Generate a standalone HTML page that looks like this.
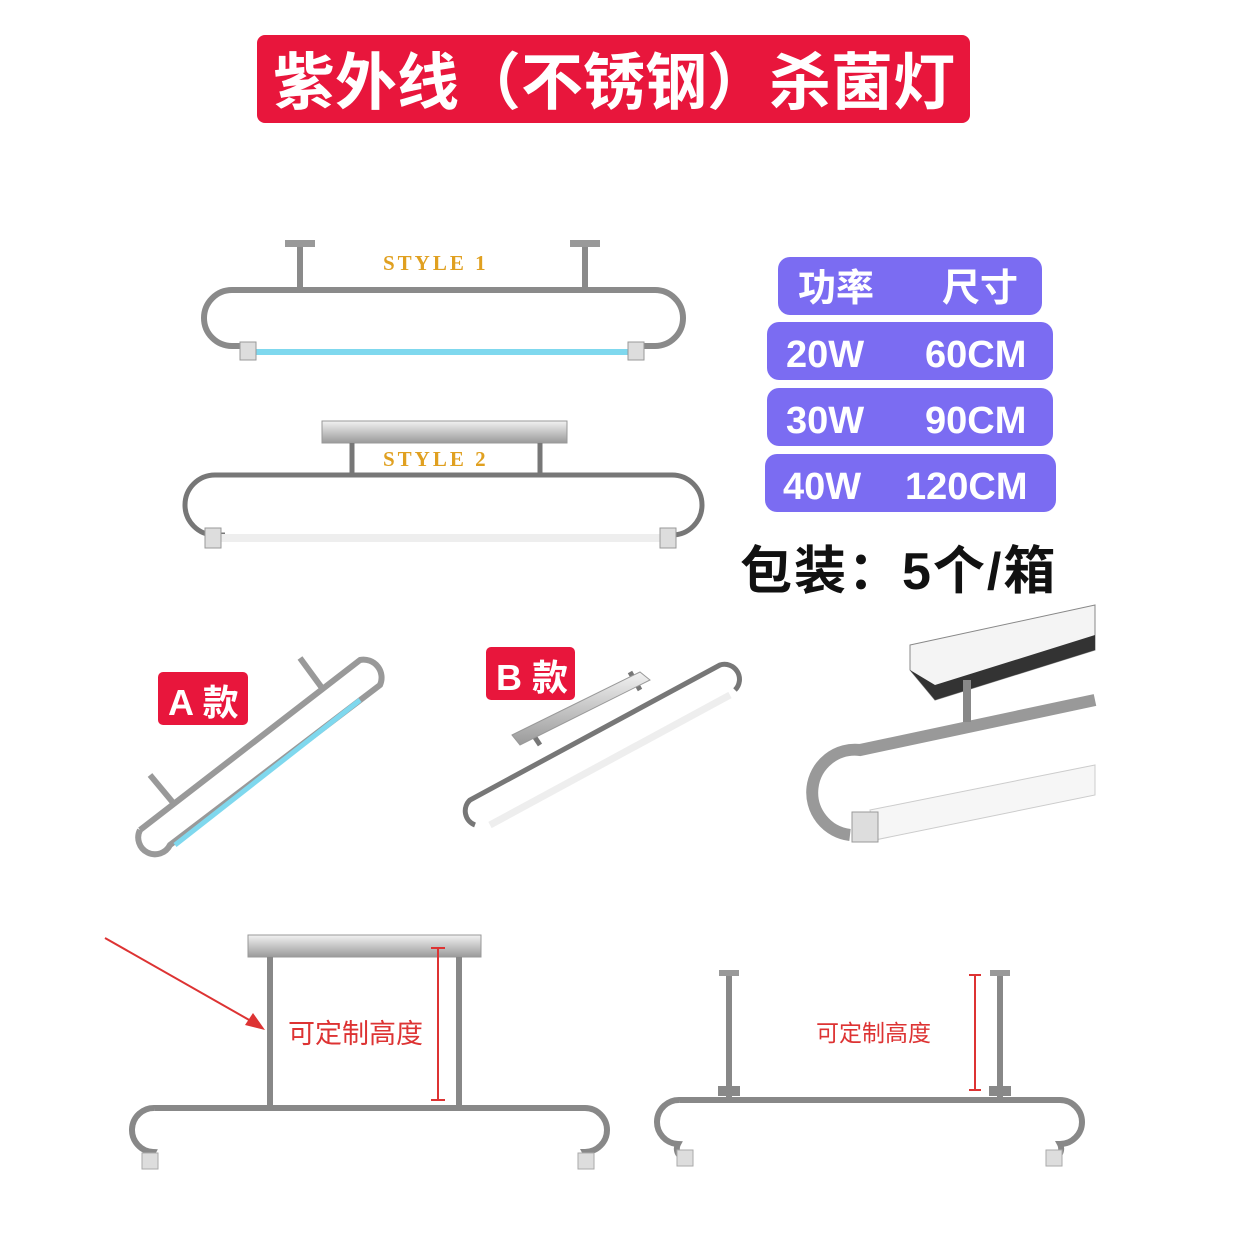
<!DOCTYPE html>
<html><head><meta charset="utf-8"><style>
html,body{margin:0;padding:0;background:#fff}
svg{display:block}
text{font-family:"Liberation Sans","Noto Sans CJK SC",sans-serif}
</style></head><body>
<svg width="1254" height="1254" viewBox="0 0 1254 1254" xmlns="http://www.w3.org/2000/svg">
<defs>
<linearGradient id="plate" x1="0" y1="0" x2="0" y2="1"><stop offset="0" stop-color="#f2f2f2"/><stop offset="1" stop-color="#9a9a9a"/></linearGradient>
</defs>
<!-- title -->
<rect x="257" y="35" width="713" height="88" rx="8" fill="#e8163c"/>
<text x="614" y="104" text-anchor="middle" font-size="62" font-weight="bold" fill="#fff">紫外线（不锈钢）杀菌灯</text>

<!-- style 1 -->
<g stroke="#8a8a8a" fill="none">
<path d="M300 290 H655 a28 28 0 0 1 0 56 H632 M250 346 H232 a28 28 0 0 1 0 -56 H300" stroke-width="6"/>
<line x1="300" y1="245" x2="300" y2="290" stroke-width="6"/>
<line x1="585" y1="245" x2="585" y2="290" stroke-width="6"/>
</g>
<rect x="285" y="240" width="30" height="7" fill="#999"/><rect x="570" y="240" width="30" height="7" fill="#999"/>
<line x1="255" y1="352" x2="630" y2="352" stroke="#7fd8ee" stroke-width="6"/>
<rect x="240" y="342" width="16" height="18" fill="#ddd" stroke="#999"/><rect x="628" y="342" width="16" height="18" fill="#ddd" stroke="#999"/>
<text x="383" y="270" font-size="21" font-weight="bold" fill="#e0a020" style="font-family:'Liberation Serif',serif" letter-spacing="3">STYLE 1</text>

<!-- style 2 -->
<rect x="322" y="421" width="245" height="22" fill="url(#plate)" stroke="#999"/>
<g stroke="#777" fill="none" stroke-width="5">
<line x1="352" y1="443" x2="352" y2="475"/><line x1="540" y1="443" x2="540" y2="475"/>
<path d="M215 475 H672 a30 30 0 0 1 0 60 H660 M225 535 H215 a30 30 0 0 1 0 -60"/>
</g>
<line x1="220" y1="538" x2="665" y2="538" stroke="#eee" stroke-width="8"/>
<rect x="205" y="528" width="16" height="20" fill="#ddd" stroke="#999"/><rect x="660" y="528" width="16" height="20" fill="#ddd" stroke="#999"/>
<text x="383" y="466" font-size="21" font-weight="bold" fill="#e0a020" style="font-family:'Liberation Serif',serif" letter-spacing="3">STYLE 2</text>

<!-- pills -->
<g fill="#7b6cf2">
<rect x="778" y="257" width="264" height="58" rx="12"/>
<rect x="767" y="322" width="286" height="58" rx="12"/>
<rect x="767" y="388" width="286" height="58" rx="12"/>
<rect x="765" y="454" width="291" height="58" rx="12"/>
</g>
<g fill="#fff" font-size="38" font-weight="bold">
<text x="798" y="301">功率</text><text x="942" y="301">尺寸</text>
<text x="786" y="367">20W</text><text x="925" y="367">60CM</text>
<text x="786" y="433">30W</text><text x="925" y="433">90CM</text>
<text x="783" y="499">40W</text><text x="905" y="499">120CM</text>
</g>
<text x="740" y="589" font-size="52" font-weight="bold" fill="#111" letter-spacing="2">包装：5个/箱</text>

<!-- A款 -->
<g stroke="#999" fill="none" stroke-width="6">
<path d="M140 830 L360 660 a18 18 0 0 1 20 25 L170 845 a16 16 0 0 1 -30 -15"/>
<line x1="150" y1="775" x2="175" y2="805"/><line x1="300" y1="658" x2="322" y2="688"/>
</g>
<line x1="175" y1="845" x2="360" y2="700" stroke="#7fd8ee" stroke-width="5"/>
<rect x="158" y="672" width="90" height="53" rx="5" fill="#e8163c"/>
<text x="168" y="715" font-size="36" font-weight="bold" fill="#fff">A 款</text>

<!-- B款 -->
<g stroke="#777" fill="none" stroke-width="5">
<path d="M475 825 a15 15 0 0 1 -5 -25 L720 665 a15 15 0 0 1 15 25"/>
<line x1="540" y1="745" x2="530" y2="730"/><line x1="640" y1="690" x2="630" y2="672"/>
</g>
<polygon points="512,735 640,672 650,680 520,745" fill="url(#plate)" stroke="#999"/>
<line x1="490" y1="825" x2="730" y2="695" stroke="#eee" stroke-width="7"/>
<rect x="486" y="647" width="89" height="53" rx="5" fill="#e8163c"/>
<text x="496" y="690" font-size="36" font-weight="bold" fill="#fff">B 款</text>

<!-- closeup -->
<polygon points="910,645 1095,605 1095,650 935,700 910,670" fill="#f4f4f4" stroke="#888"/>
<polygon points="910,670 935,700 1095,650 1095,635 935,685" fill="#333"/>
<path d="M1095 700 L860 750 a40 40 0 0 0 -10 85" stroke="#999" stroke-width="12" fill="none"/>
<line x1="967" y1="680" x2="967" y2="722" stroke="#888" stroke-width="8"/>
<polygon points="870,810 1095,765 1095,795 875,840" fill="#f6f6f6" stroke="#ccc"/>
<rect x="852" y="812" width="26" height="30" fill="#ddd" stroke="#999"/>

<!-- bottom left -->
<rect x="248" y="935" width="233" height="22" fill="url(#plate)" stroke="#999"/>
<g stroke="#888" stroke-width="6" fill="none">
<line x1="270" y1="957" x2="270" y2="1108"/><line x1="459" y1="957" x2="459" y2="1108"/>
<path d="M155 1108 H585 a22 22 0 0 1 0 44 a10 10 0 0 1 -2 12 M155 1108 a22 22 0 0 0 -2 44 a10 10 0 0 0 2 12"/>
</g>
<rect x="142" y="1153" width="16" height="16" fill="#ddd" stroke="#aaa"/><rect x="578" y="1153" width="16" height="16" fill="#ddd" stroke="#aaa"/>
<line x1="105" y1="938" x2="258" y2="1025" stroke="#d33" stroke-width="2"/>
<polygon points="265,1030 245,1025 253,1013" fill="#d33"/>
<line x1="438" y1="948" x2="438" y2="1100" stroke="#d33" stroke-width="2"/>
<line x1="431" y1="948" x2="445" y2="948" stroke="#d33" stroke-width="2"/><line x1="431" y1="1100" x2="445" y2="1100" stroke="#d33" stroke-width="2"/>
<text x="288" y="1043" font-size="27" fill="#d33">可定制高度</text>

<!-- bottom right -->
<g stroke="#888" stroke-width="6" fill="none">
<line x1="729" y1="975" x2="729" y2="1098"/><line x1="1000" y1="975" x2="1000" y2="1098"/>
<path d="M680 1100 H1060 a22 22 0 0 1 0 44 a10 10 0 0 1 -2 12 M680 1100 a22 22 0 0 0 -2 44 a10 10 0 0 0 2 12"/>
</g>
<rect x="719" y="970" width="20" height="6" fill="#999"/><rect x="990" y="970" width="20" height="6" fill="#999"/>
<rect x="718" y="1086" width="22" height="10" fill="#888"/><rect x="989" y="1086" width="22" height="10" fill="#888"/>
<rect x="677" y="1150" width="16" height="16" fill="#ddd" stroke="#aaa"/><rect x="1046" y="1150" width="16" height="16" fill="#ddd" stroke="#aaa"/>
<line x1="975" y1="975" x2="975" y2="1090" stroke="#d33" stroke-width="2"/>
<line x1="969" y1="975" x2="981" y2="975" stroke="#d33" stroke-width="2"/><line x1="969" y1="1090" x2="981" y2="1090" stroke="#d33" stroke-width="2"/>
<text x="816" y="1041" font-size="23" fill="#d33">可定制高度</text>
</svg>
</body></html>
